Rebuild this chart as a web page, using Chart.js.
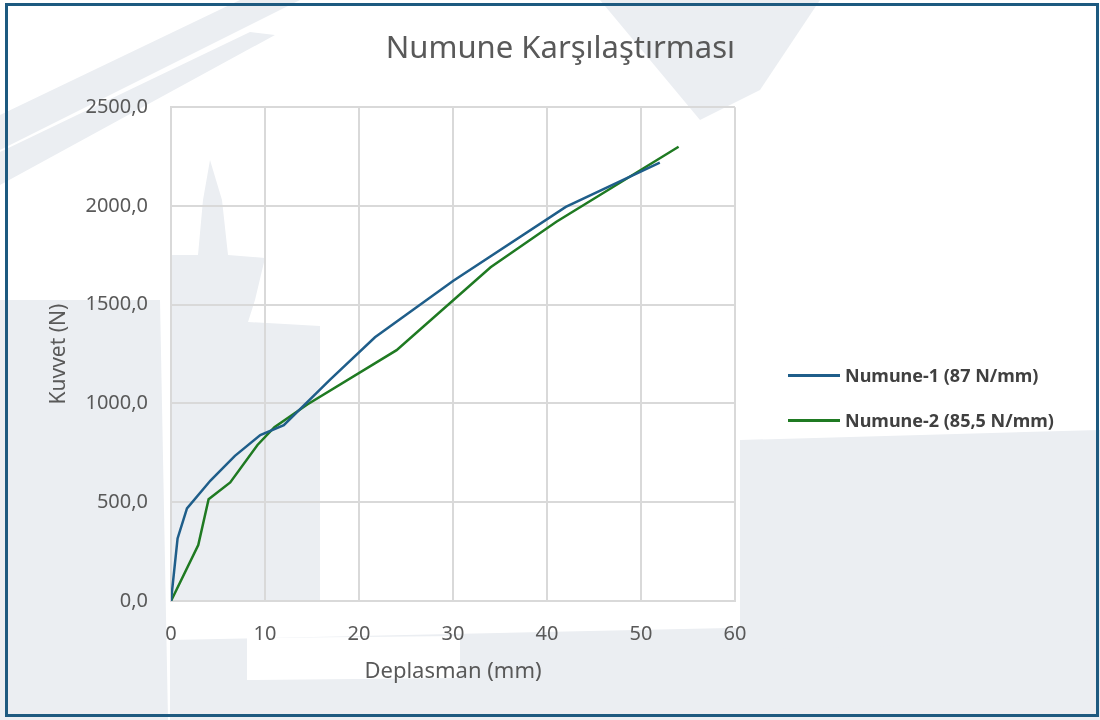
<!DOCTYPE html>
<html lang="tr">
<head>
  <meta charset="UTF-8" />
  <title>Numune Karşılaştırması</title>
  <style>
    body {
      margin: 0;
      width: 1100px;
      height: 720px;
      overflow: hidden;
      background: #ffffff;
      font-family: 'Noto Sans', sans-serif;
    }

    .shape {
      position: absolute;
      left: 0;
      top: 0;
      width: 1100px;
      height: 720px;
      background: #ebeef2;
    }

    #frame {
      position: absolute;
      left: 5px;
      top: 3px;
      width: 1088px;
      height: 708px;
      border: 3px solid #1d5a80;
      pointer-events: none;
    }

    #chartBox {
      position: absolute;
      left: 0;
      top: 0;
      width: 1100px;
      height: 720px;
    }

    #legend {
      position: absolute;
      left: 788px;
      top: 362px;
      list-style: none;
      margin: 0;
      padding: 0;
    }

    #legend li {
      display: flex;
      align-items: center;
      height: 26px;
      margin-bottom: 19px;
      font-size: 18px;
      font-weight: bold;
      color: #404040;
      white-space: nowrap;
    }

    #legend span {
      display: inline-block;
      width: 52px;
      height: 3px;
      margin-right: 5px;
    }
  </style>
</head>
<body>
  <!-- faint watermark behind the chart -->
  <div class="shape" style="clip-path:polygon(0 150px,300px 0,240px 0,0 115px);"></div>
  <div class="shape" style="clip-path:polygon(0 185px,275px 35px,250px 32px,0 152px);"></div>
  <div class="shape" style="clip-path:polygon(600px 0,820px 0,760px 90px,700px 120px);"></div>
  <div class="shape" style="clip-path:polygon(0 300px,160px 300px,168px 720px,0 720px);"></div>
  <div class="shape" style="clip-path:polygon(170px 640px,1100px 620px,1100px 720px,170px 720px);"></div>
  <div class="shape" style="clip-path:polygon(740px 440px,1100px 430px,1100px 640px,740px 650px);"></div>
  <div class="shape" style="clip-path:polygon(210px 160px,222px 200px,228px 255px,265px 258px,255px 300px,248px 322px,320px 326px,320px 600px,171px 600px,171px 255px,198px 255px,203px 200px);"></div>
  <div class="shape" style="background:#fff;clip-path:polygon(247px 638px,460px 636px,460px 678px,247px 680px);"></div>

  <div id="chartBox"><canvas id="chart" width="1100" height="720"></canvas></div>
  <ul id="legend"></ul>
  <div id="frame"></div>

  <script src="https://cdn.jsdelivr.net/npm/chart.js"></script>
  <script>
    // values
    const n1Disp = [0, 0.7, 1.7, 4.2, 6.8, 9.5, 12, 16.9, 21.7, 30, 42, 52];
    const n1Force = [0, 317, 469, 610, 735, 840, 890, 1120, 1335, 1620, 1995, 2220];

    const n2Disp = [0, 2.9, 4, 6.3, 9.2, 11, 14.5, 24, 34, 41, 54];
    const n2Force = [0, 283, 515, 600, 790, 880, 995, 1270, 1690, 1920, 2300];

    const seriesNames = ['Numune-1 (87 N/mm)', 'Numune-2 (85,5 N/mm)'];
    const seriesColors = ['#1f5e8a', '#1f7a22'];

    const xTicks = [0, 10, 20, 30, 40, 50, 60];
    const yTicks = [0, 500, 1000, 1500, 2000, 2500];

    const toPoints = (xs, ys) => xs.map((x, i) => ({ x, y: ys[i] }));

    const gridColor = '#d9d9d9';
    const textColor = '#595959';

    const ctx = document.getElementById('chart').getContext('2d');
    const chart = new Chart(ctx, {
      type: 'scatter',
      data: {
        datasets: [
          {
            label: seriesNames[0],
            data: toPoints(n1Disp, n1Force),
            showLine: true,
            borderColor: seriesColors[0],
            backgroundColor: seriesColors[0],
            borderWidth: 2.5,
            pointRadius: 0,
            tension: 0
          },
          {
            label: seriesNames[1],
            data: toPoints(n2Disp, n2Force),
            showLine: true,
            borderColor: seriesColors[1],
            backgroundColor: seriesColors[1],
            borderWidth: 2.5,
            pointRadius: 0,
            tension: 0
          }
        ]
      },
      options: {
        responsive: false,
        animation: false,
        layout: { padding: { left: 20, right: 365, top: 10, bottom: 20 } },
        plugins: {
          title: {
            display: true,
            align: 'end',
            text: 'Numune Karşılaştırması',
            color: textColor,
            font: { family: 'Noto Sans', size: 31, weight: 'normal' },
            padding: { top: 21, bottom: 39 }
          },
          legend: { display: false },
          tooltip: { enabled: false }
        },
        scales: {
          x: {
            type: 'linear',
            min: xTicks[0],
            max: xTicks[xTicks.length - 1],
            afterBuildTicks: s => { s.ticks = xTicks.map(v => ({ value: v })); },
            afterFit: s => { s.height = 99; },
            ticks: {
              color: textColor,
              font: { family: 'Noto Sans', size: 20 },
              padding: 21
            },
            grid: { color: gridColor, lineWidth: 2, drawTicks: false },
            border: { color: gridColor, width: 2 },
            title: {
              display: true,
              text: 'Deplasman (mm)',
              color: textColor,
              font: { family: 'Noto Sans', size: 22 },
              padding: { top: 0, bottom: 15 }
            }
          },
          y: {
            type: 'linear',
            min: yTicks[0],
            max: yTicks[yTicks.length - 1],
            afterBuildTicks: s => { s.ticks = yTicks.map(v => ({ value: v })); },
            afterFit: s => { s.width = 151; },
            ticks: {
              color: textColor,
              font: { family: 'Noto Sans', size: 20 },
              padding: 23,
              callback: v => v.toFixed(1).replace('.', ',')
            },
            grid: { color: gridColor, lineWidth: 2, drawTicks: false },
            border: { color: gridColor, width: 2 },
            title: {
              display: true,
              text: 'Kuvvet (N)',
              color: textColor,
              font: { family: 'Noto Sans', size: 21 },
              padding: { top: 26, bottom: 0 }
            }
          }
        }
      }
    });

    // legend as html, built from the chart's datasets
    const legendEl = document.getElementById('legend');
    chart.data.datasets.forEach(ds => {
      const li = document.createElement('li');
      const swatch = document.createElement('span');
      swatch.style.background = ds.borderColor;
      li.appendChild(swatch);
      li.appendChild(document.createTextNode(ds.label));
      legendEl.appendChild(li);
    });
  </script>
</body>
</html>
